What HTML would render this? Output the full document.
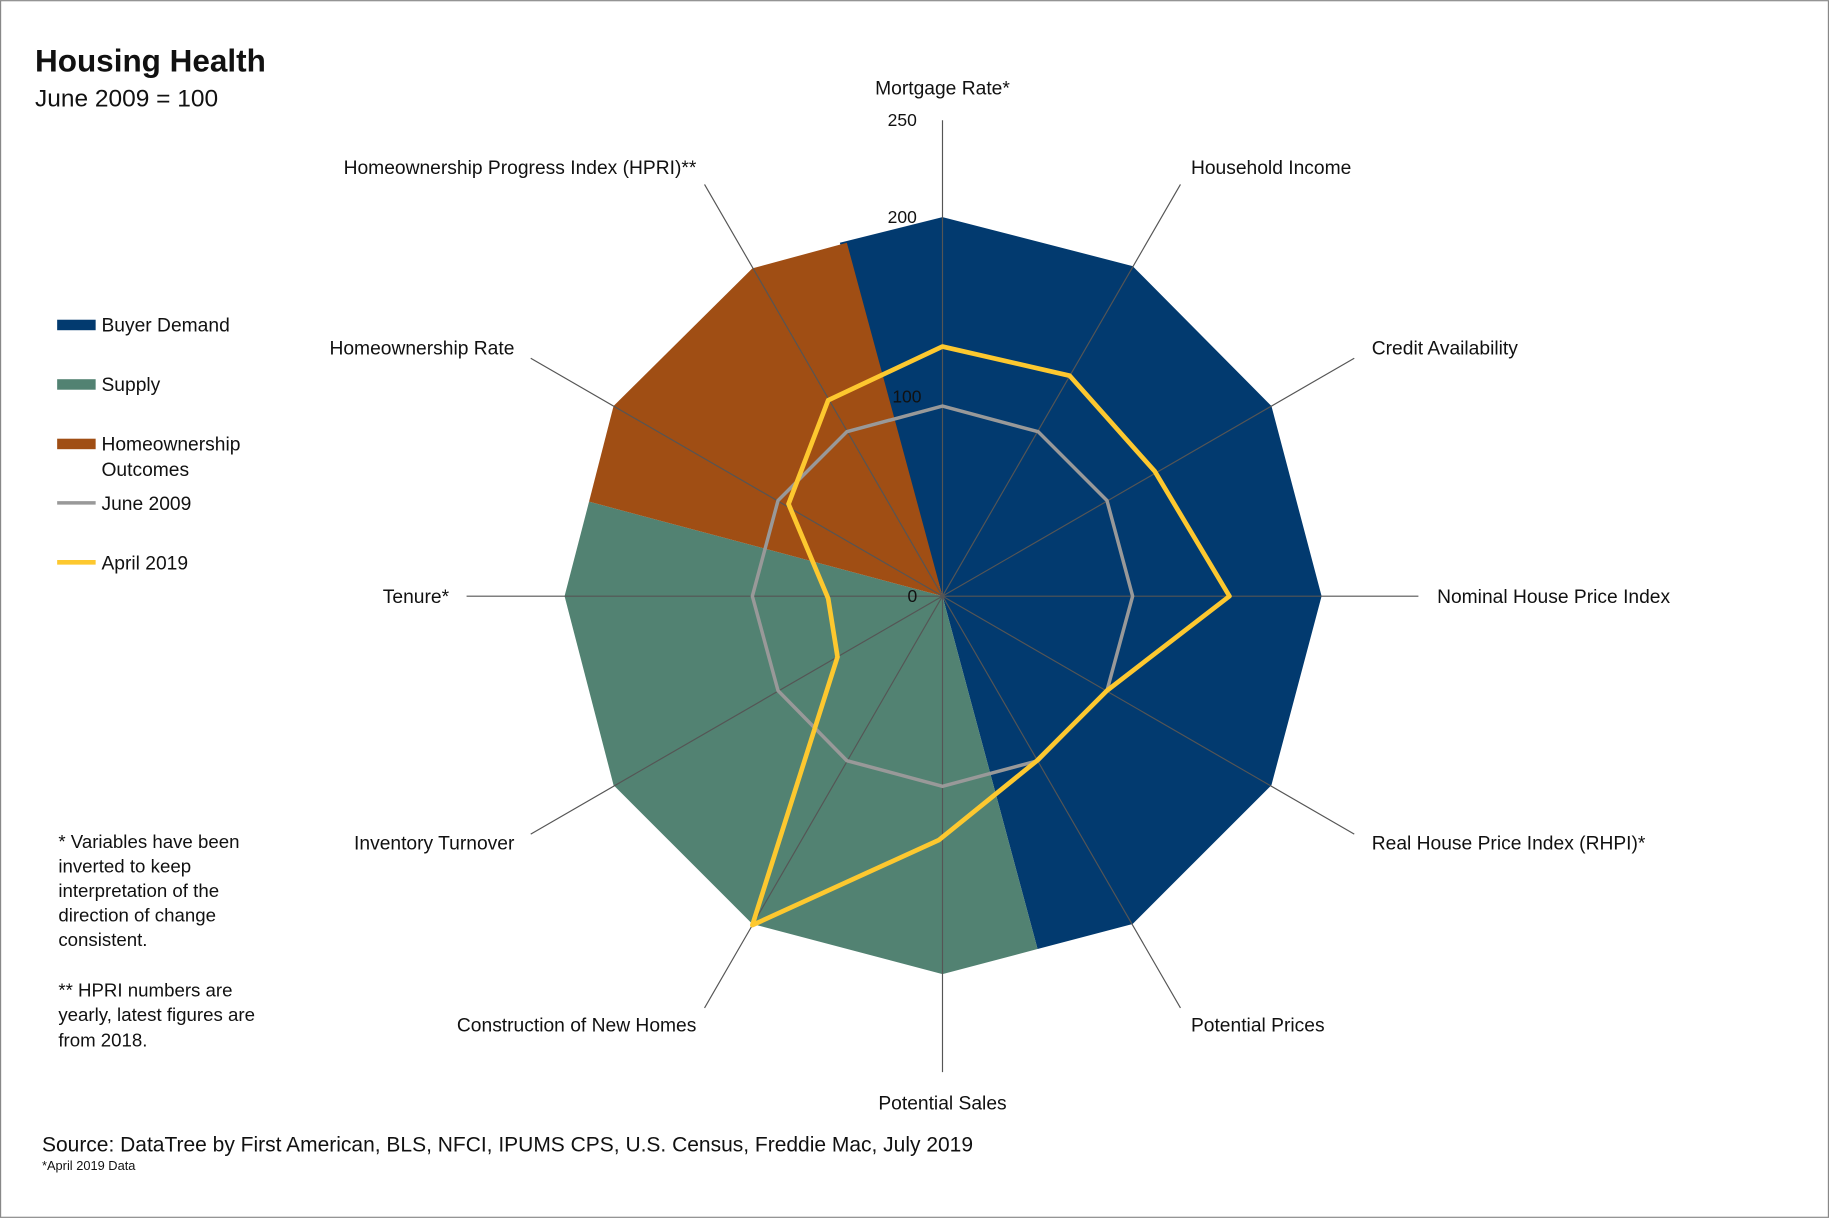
<!DOCTYPE html>
<html><head><meta charset="utf-8"><style>
html,body{margin:0;padding:0;background:#fff;}
svg{display:block;}
text{font-family:"Liberation Sans",sans-serif;fill:#111;}
</style></head><body>
<svg width="1829" height="1218" viewBox="0 0 1568 1044" xmlns="http://www.w3.org/2000/svg">
<rect x="0.5" y="0.5" width="1567" height="1043" fill="#fff" stroke="#888" stroke-width="1"/>
<text x="30" y="61" font-size="27" font-weight="bold">Housing Health</text>
<text x="30" y="91" font-size="21">June 2009 = 100</text>

<!-- filled areas -->
<polygon fill="#023a6f" points="808,511 720,208 808,186 971,228 1090,348 1133,511 1090,673 971,792 889.5,813.5"/>
<polygon fill="#528272" points="808,511 889.5,813.5 808,835 645,792 526,673 484,511 505,430"/>
<polygon fill="#a04e14" points="808,511 505,430 526,348 645,230 726,208"/>

<!-- axes -->
<g stroke="#555" stroke-width="1">
<line x1="808" y1="511" x2="808" y2="103"/>
<line x1="808" y1="511" x2="1012" y2="158"/>
<line x1="808" y1="511" x2="1161" y2="307"/>
<line x1="808" y1="511" x2="1216" y2="511"/>
<line x1="808" y1="511" x2="1161" y2="715"/>
<line x1="808" y1="511" x2="1012" y2="864"/>
<line x1="808" y1="511" x2="808" y2="919"/>
<line x1="808" y1="511" x2="604" y2="864"/>
<line x1="808" y1="511" x2="455" y2="715"/>
<line x1="808" y1="511" x2="400" y2="511"/>
<line x1="808" y1="511" x2="455" y2="307"/>
<line x1="808" y1="511" x2="604" y2="158"/>
</g>

<polygon fill="none" stroke="#999" stroke-width="3" points="808,348 890,370 949,429 971,511 949,592 890,652 808,674 726,652 667,592 645,511 667,429 726,370"/>
<polygon fill="none" stroke="#fdc82f" stroke-width="4" stroke-linejoin="round" points="808,297 917,322 990,404 1054,511 949,592 889,652 805,720 645,793 718,563 710,513 676,432 710,343"/>

<g font-size="15">
<text x="761" y="108">250</text>
<text x="761" y="191">200</text>
<text x="765" y="345">100</text>
<text x="778" y="516">0</text>
</g>

<g font-size="16.5">
<text x="808" y="81" text-anchor="middle">Mortgage Rate*</text>
<text x="1021" y="149">Household Income</text>
<text x="1176" y="304">Credit Availability</text>
<text x="1232" y="517">Nominal House Price Index</text>
<text x="1176" y="728">Real House Price Index (RHPI)*</text>
<text x="1021" y="884">Potential Prices</text>
<text x="808" y="951" text-anchor="middle">Potential Sales</text>
<text x="597" y="884" text-anchor="end">Construction of New Homes</text>
<text x="441" y="728" text-anchor="end">Inventory Turnover</text>
<text x="385" y="517" text-anchor="end">Tenure*</text>
<text x="441" y="304" text-anchor="end">Homeownership Rate</text>
<text x="597" y="149" text-anchor="end">Homeownership Progress Index (HPRI)**</text>
</g>

<g font-size="16.5">
<rect x="49" y="274" width="33" height="9" fill="#023a6f"/>
<text x="87" y="284">Buyer Demand</text>
<rect x="49" y="325" width="33" height="9" fill="#528272"/>
<text x="87" y="335">Supply</text>
<rect x="49" y="376" width="33" height="9" fill="#a04e14"/>
<text x="87" y="386">Homeownership</text>
<text x="87" y="408">Outcomes</text>
<line x1="49" y1="431" x2="82" y2="431" stroke="#999" stroke-width="3"/>
<text x="87" y="437">June 2009</text>
<line x1="49" y1="482" x2="82" y2="482" stroke="#fdc82f" stroke-width="4"/>
<text x="87" y="488">April 2019</text>
</g>

<g font-size="16">
<text x="50" y="727">* Variables have been</text>
<text x="50" y="748">inverted to keep</text>
<text x="50" y="769">interpretation of the</text>
<text x="50" y="790">direction of change</text>
<text x="50" y="811">consistent.</text>
<text x="50" y="854">** HPRI numbers are</text>
<text x="50" y="875">yearly, latest figures are</text>
<text x="50" y="897">from 2018.</text>
</g>

<text x="36" y="987" font-size="18">Source: DataTree by First American, BLS, NFCI, IPUMS CPS, U.S. Census, Freddie Mac, July 2019</text>
<text x="36" y="1003" font-size="11">*April 2019 Data</text>
</svg>
</body></html>
